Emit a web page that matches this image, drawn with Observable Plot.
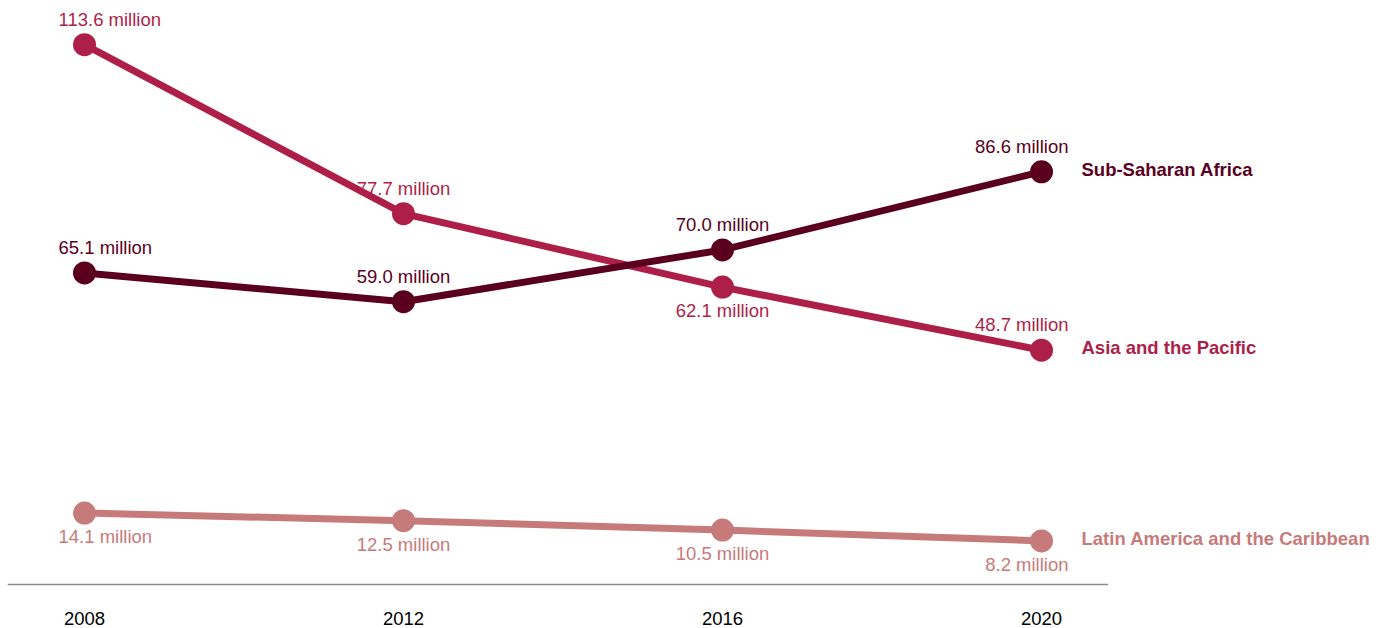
<!DOCTYPE html>
<html><head><meta charset="utf-8">
<script src="https://cdn.jsdelivr.net/npm/d3@7"></script>
<script src="https://cdn.jsdelivr.net/npm/@observablehq/plot@0.6"></script>
<style>
body{margin:0;background:#fff;}
svg{font-family:"Liberation Sans",Arial,Helvetica,sans-serif;}
</style></head><body><div id="chart"></div>
<script>
const years = [2008, 2012, 2016, 2020];
const seriesNames = ["Asia and the Pacific", "Sub-Saharan Africa", "Latin America and the Caribbean"];
const asiaValues = [113.6, 77.7, 62.1, 48.7];
const africaValues = [65.1, 59.0, 70.0, 86.6];
const latinValues = [14.1, 12.5, 10.5, 8.2];
const seriesColors = ["#ad1f49", "#5a001e", "#c77a7a"];

const valuesBySeries = [asiaValues, africaValues, latinValues];
const data = [];
seriesNames.forEach((s, i) => years.forEach((y, j) => data.push({series: s, year: y, value: valuesBySeries[i][j]})));
const first = years[0], last = years[years.length - 1];
const below = d => d.series === seriesNames[2] || (d.series === seriesNames[0] && d.year === 2016);
const lastPoints = data.filter(d => d.year === last);
const fmt = d => d.value.toFixed(1) + " million";
const FS = 18.5;

function labelMarks(subset, dy) {
  return [
    Plot.text(subset.filter(d => d.year === first), {x: "year", y: "value", text: fmt, fill: "series", fontSize: FS, dy, textAnchor: "start", dx: -26}),
    Plot.text(subset.filter(d => d.year !== first && d.year !== last), {x: "year", y: "value", text: fmt, fill: "series", fontSize: FS, dy}),
    Plot.text(subset.filter(d => d.year === last), {x: "year", y: "value", text: fmt, fill: "series", fontSize: FS, dy, textAnchor: "end", dx: 27})
  ];
}

const chart = Plot.plot({
  width: 1390,
  height: 628,
  marginLeft: 8,
  marginRight: 283,
  marginTop: 14,
  marginBottom: 44,
  insetLeft: 76,
  insetRight: 66,
  insetBottom: 5,
  style: {fontFamily: '"Liberation Sans",Arial,Helvetica,sans-serif', fontSize: FS + "px", color: "#000", background: "#fff"},
  x: {domain: [2008, 2020], label: null},
  y: {domain: [0, 120], axis: null},
  color: {domain: seriesNames, range: seriesColors},
  marks: [
    Plot.frame({anchor: "bottom", stroke: "#8a8a8a", strokeWidth: 1.5}),
    Plot.axisX({ticks: years, tickFormat: d => String(d), tickSize: 0, tickPadding: 27, fontSize: FS, fill: "#000", label: null}),
    Plot.line(data, {x: "year", y: "value", z: "series", stroke: "series", strokeWidth: 7}),
    Plot.dot(data, {x: "year", y: "value", fill: "series", r: 11.5}),
    ...labelMarks(data.filter(d => !below(d)), -25),
    ...labelMarks(data.filter(below), 24),
    Plot.text(lastPoints, {x: "year", y: "value", text: "series", fill: "series", fontSize: FS, fontWeight: "bold",
      textAnchor: "start", dx: 40, dy: -2})
  ]
});
document.getElementById("chart").appendChild(chart);
</script></body></html>
